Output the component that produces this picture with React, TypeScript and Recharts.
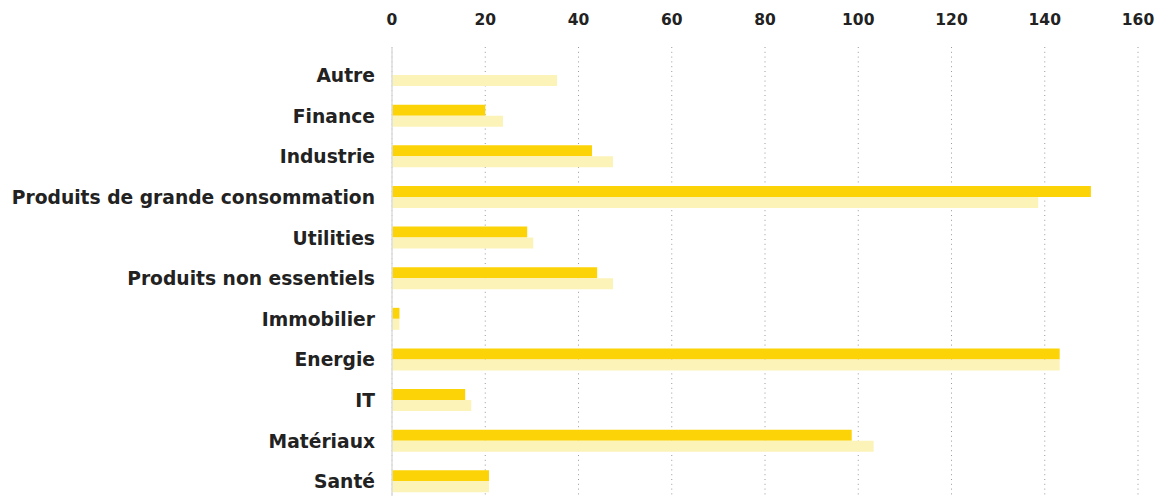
import { Bar, BarChart, CartesianGrid, XAxis, YAxis } from "recharts";

const categories = [
  "Autre",
  "Finance",
  "Industrie",
  "Produits de grande consommation",
  "Utilities",
  "Produits non essentiels",
  "Immobilier",
  "Energie",
  "IT",
  "Matériaux",
  "Santé",
];

const currentValues = [0, 20, 42.9, 149.9, 29, 44, 1.6, 143.2, 15.7, 98.6, 20.8];
const previousValues = [35.4, 23.8, 47.4, 138.6, 30.3, 47.4, 1.6, 143.2, 17, 103.3, 20.8];

const xTicks = [0, 20, 40, 60, 80, 100, 120, 140, 160];

const COLORS = {
  current: "#FCD307",
  previous: "#FCF3B9",
  text: "#222222",
  grid: "#9a9a9a",
  axis: "#dddddd",
};

const FONT = "'DejaVu Sans', sans-serif";

const data = categories.map((name, i) => ({
  name,
  current: currentValues[i],
  previous: previousValues[i],
}));

export default function App() {
  return (
    <div style={{ width: 1158, height: 496, overflow: "hidden" }}>
      <style>{`body { margin: 0; }`}</style>
      <BarChart
        width={1158}
        height={502}
        data={data}
        layout="vertical"
        margin={{ top: 0, right: 20, bottom: 0, left: 0 }}
        barGap={0}
        barSize={11}
      >
        <CartesianGrid
          horizontal={false}
          stroke={COLORS.grid}
          strokeDasharray="1 3.8"
        />
        <XAxis
          type="number"
          orientation="top"
          domain={[0, 160]}
          ticks={xTicks}
          axisLine={false}
          tickLine={false}
          height={47}
          tickMargin={16}
          tick={{ fontSize: 15.5, fontWeight: 700, fill: COLORS.text, fontFamily: FONT }}
        />
        <YAxis
          type="category"
          dataKey="name"
          width={392}
          padding={{ top: 8, bottom: 0 }}
          axisLine={{ stroke: COLORS.axis, strokeWidth: 1.5 }}
          tickLine={false}
          tickMargin={11}
          interval={0}
          tick={{ fontSize: 18.7, fontWeight: 700, fill: COLORS.text, fontFamily: FONT }}
        />
        <Bar dataKey="current" fill={COLORS.current} isAnimationActive={false} />
        <Bar dataKey="previous" fill={COLORS.previous} isAnimationActive={false} />
      </BarChart>
    </div>
  );
}
